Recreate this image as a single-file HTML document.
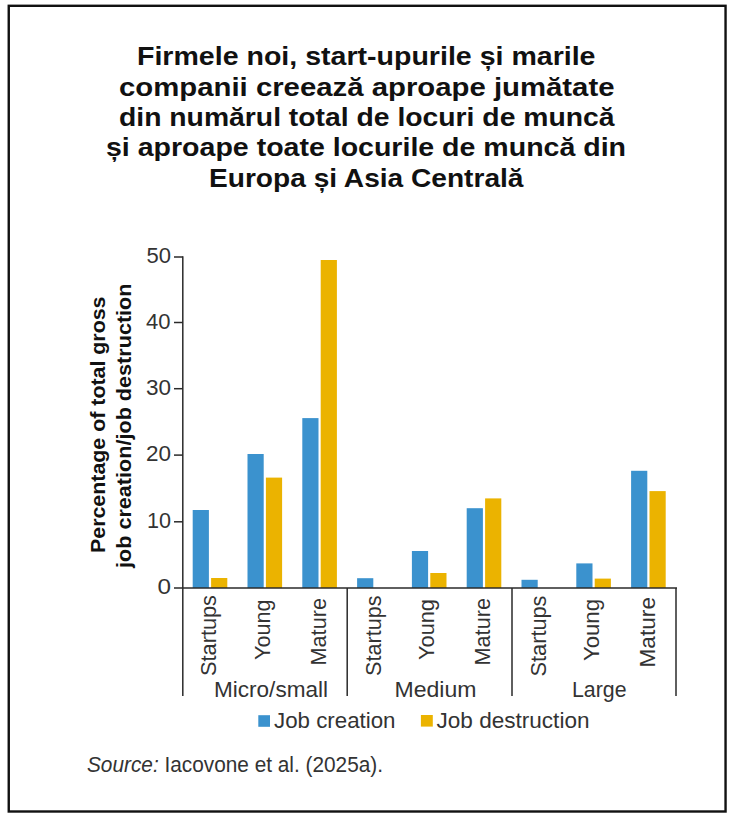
<!DOCTYPE html>
<html><head><meta charset="utf-8">
<style>
html,body{margin:0;padding:0;background:#fff;}
body{width:735px;height:820px;overflow:hidden;position:relative;}
svg{position:absolute;left:0;top:0;display:block;}
text{font-family:"Liberation Sans",sans-serif;}
</style></head>
<body>
<svg width="735" height="820" viewBox="0 0 735 820">
<rect x="0" y="0" width="735" height="820" fill="#fff"/>
<g id="shapes">
<rect x="8.75" y="5.8" width="716.8" height="805.7" fill="none" stroke="#111" stroke-width="2.4"/>
<rect x="192.70" y="510" width="16.2" height="78.00" fill="#3B92CE"/>
<rect x="247.50" y="454" width="16.2" height="134.00" fill="#3B92CE"/>
<rect x="302.30" y="418.1" width="16.2" height="169.90" fill="#3B92CE"/>
<rect x="357.10" y="578.2" width="16.2" height="9.80" fill="#3B92CE"/>
<rect x="411.90" y="551" width="16.2" height="37.00" fill="#3B92CE"/>
<rect x="466.70" y="508.2" width="16.2" height="79.80" fill="#3B92CE"/>
<rect x="521.50" y="579.8" width="16.2" height="8.20" fill="#3B92CE"/>
<rect x="576.30" y="563.4" width="16.2" height="24.60" fill="#3B92CE"/>
<rect x="631.10" y="470.8" width="16.2" height="117.20" fill="#3B92CE"/>
<rect x="211.10" y="578" width="16.2" height="10.00" fill="#EBB300"/>
<rect x="265.90" y="477.6" width="16.2" height="110.40" fill="#EBB300"/>
<rect x="320.70" y="260" width="16.2" height="328.00" fill="#EBB300"/>
<rect x="430.30" y="573" width="16.2" height="15.00" fill="#EBB300"/>
<rect x="485.10" y="498.4" width="16.2" height="89.60" fill="#EBB300"/>
<rect x="594.70" y="578.6" width="16.2" height="9.40" fill="#EBB300"/>
<rect x="649.50" y="491.1" width="16.2" height="96.90" fill="#EBB300"/>
<g stroke="#2a2a2a" stroke-width="1.5" fill="none">
<line x1="182.8" y1="256.3" x2="182.8" y2="696"/>
<line x1="174" y1="588" x2="677" y2="588"/>
<line x1="347.2" y1="588" x2="347.2" y2="696"/>
<line x1="512" y1="588" x2="512" y2="696"/>
<line x1="676" y1="588" x2="676" y2="696"/>
<line x1="174" y1="257" x2="182.8" y2="257"/>
<line x1="174" y1="322.5" x2="182.8" y2="322.5"/>
<line x1="174" y1="388.7" x2="182.8" y2="388.7"/>
<line x1="174" y1="455.1" x2="182.8" y2="455.1"/>
<line x1="174" y1="521.8" x2="182.8" y2="521.8"/>
</g>
<rect x="258.3" y="715.2" width="11.7" height="11.6" fill="#3B92CE"/>
<rect x="420.9" y="715" width="11.9" height="11.6" fill="#EBB300"/>
</g>
<g id="texts">
<text id="t1" x="137.00" y="65.1" font-size="26" font-weight="bold" fill="#111" textLength="458.50" lengthAdjust="spacingAndGlyphs">Firmele noi, start-upurile și marile</text>
<text id="t2" x="119.00" y="96.2" font-size="26" font-weight="bold" fill="#111" textLength="495.50" lengthAdjust="spacingAndGlyphs">companii creează aproape jumătate</text>
<text id="t3" x="119.00" y="126.3" font-size="26" font-weight="bold" fill="#111" textLength="495.50" lengthAdjust="spacingAndGlyphs">din numărul total de locuri de muncă</text>
<text id="t4" x="106.00" y="156.4" font-size="26" font-weight="bold" fill="#111" textLength="520.00" lengthAdjust="spacingAndGlyphs">și aproape toate locurile de muncă din</text>
<text id="t5" x="209.00" y="187.2" font-size="26" font-weight="bold" fill="#111" textLength="314.50" lengthAdjust="spacingAndGlyphs">Europa și Asia Centrală</text>
<text id="y1" transform="translate(104.6,553.00) rotate(-90)" x="0" y="0" font-size="21" font-weight="bold" fill="#111" textLength="256.50" lengthAdjust="spacingAndGlyphs">Percentage of total gross</text>
<text id="y2" transform="translate(131.1,568.00) rotate(-90)" x="0" y="0" font-size="21" font-weight="bold" fill="#111" textLength="284.50" lengthAdjust="spacingAndGlyphs">job creation/job destruction</text>
<text id="k50" x="146.50" y="263" font-size="22.5" fill="#333" textLength="24.50" lengthAdjust="spacingAndGlyphs">50</text>
<text id="k40" x="146.00" y="328.6" font-size="22.5" fill="#333" textLength="24.50" lengthAdjust="spacingAndGlyphs">40</text>
<text id="k30" x="146.00" y="395" font-size="22.5" fill="#333" textLength="25.00" lengthAdjust="spacingAndGlyphs">30</text>
<text id="k20" x="146.00" y="461" font-size="22.5" fill="#333" textLength="25.00" lengthAdjust="spacingAndGlyphs">20</text>
<text id="k10" x="147.00" y="527.6" font-size="22.5" fill="#333" textLength="24.00" lengthAdjust="spacingAndGlyphs">10</text>
<text id="k0" x="157.50" y="594" font-size="22.5" fill="#333" textLength="13.50" lengthAdjust="spacingAndGlyphs">0</text>
<text id="c0" transform="translate(216,676.00) rotate(-90)" x="0" y="0" font-size="22" fill="#333" textLength="81.00" lengthAdjust="spacingAndGlyphs">Startups</text>
<text id="c1" transform="translate(270.3,660.00) rotate(-90)" x="0" y="0" font-size="22" fill="#333" textLength="60.50" lengthAdjust="spacingAndGlyphs">Young</text>
<text id="c2" transform="translate(325.6,665.50) rotate(-90)" x="0" y="0" font-size="22" fill="#333" textLength="67.50" lengthAdjust="spacingAndGlyphs">Mature</text>
<text id="c3" transform="translate(380.5,676.00) rotate(-90)" x="0" y="0" font-size="22" fill="#333" textLength="80.50" lengthAdjust="spacingAndGlyphs">Startups</text>
<text id="c4" transform="translate(434,660.00) rotate(-90)" x="0" y="0" font-size="22" fill="#333" textLength="61.00" lengthAdjust="spacingAndGlyphs">Young</text>
<text id="c5" transform="translate(489.8,665.50) rotate(-90)" x="0" y="0" font-size="22" fill="#333" textLength="67.50" lengthAdjust="spacingAndGlyphs">Mature</text>
<text id="c6" transform="translate(545.6,676.50) rotate(-90)" x="0" y="0" font-size="22" fill="#333" textLength="81.00" lengthAdjust="spacingAndGlyphs">Startups</text>
<text id="c7" transform="translate(599,661.00) rotate(-90)" x="0" y="0" font-size="22" fill="#333" textLength="62.00" lengthAdjust="spacingAndGlyphs">Young</text>
<text id="c8" transform="translate(654.6,667.50) rotate(-90)" x="0" y="0" font-size="22" fill="#333" textLength="70.50" lengthAdjust="spacingAndGlyphs">Mature</text>
<text id="g0" x="214.00" y="696.8" font-size="21.5" fill="#333" textLength="114.00" lengthAdjust="spacingAndGlyphs">Micro/small</text>
<text id="g1" x="394.50" y="696.9" font-size="21.5" fill="#333" textLength="82.00" lengthAdjust="spacingAndGlyphs">Medium</text>
<text id="g2" x="572.00" y="697.2" font-size="21.5" fill="#333" textLength="54.50" lengthAdjust="spacingAndGlyphs">Large</text>
<text id="l0" x="274.00" y="728" font-size="22" fill="#333" textLength="121.50" lengthAdjust="spacingAndGlyphs">Job creation</text>
<text id="l1" x="436.50" y="728" font-size="22" fill="#333" textLength="153.00" lengthAdjust="spacingAndGlyphs">Job destruction</text>
<text id="src" x="87.00" y="771.6" font-size="21.5" fill="#333" textLength="296.00" lengthAdjust="spacingAndGlyphs"><tspan font-style="italic">Source:</tspan> Iacovone et al. (2025a).</text>
</g>
</svg>
</body></html>
